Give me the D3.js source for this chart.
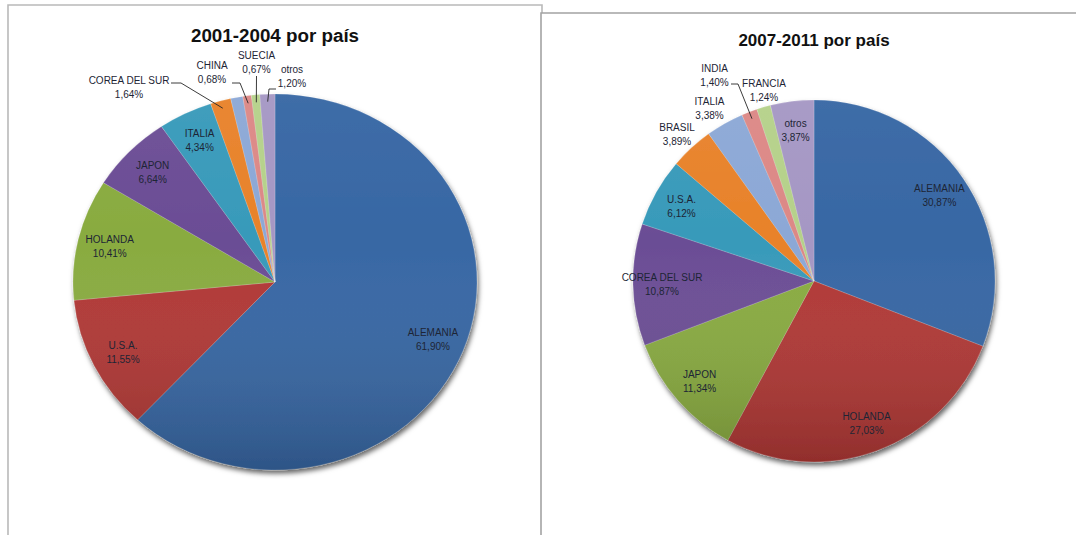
<!DOCTYPE html>
<html>
<head>
<meta charset="utf-8">
<script src="https://cdn.jsdelivr.net/npm/d3@7"></script>
<style>
  body { margin: 0; background: #fff; }
  svg { display: block; }
</style>
</head>
<body>
<script>
// Importaciones por país, periodo 2001-2004 (porcentaje del total)
const paises2001 = ["ALEMANIA", "U.S.A.", "HOLANDA", "JAPON", "ITALIA", "COREA DEL SUR", "", "CHINA", "SUECIA", "otros"];
const valores2001 = [61.90, 11.55, 10.41, 6.64, 4.34, 1.64, 0.97, 0.68, 0.67, 1.20];

// Importaciones por país, periodo 2007-2011 (porcentaje del total)
const paises2011 = ["ALEMANIA", "HOLANDA", "JAPON", "COREA DEL SUR", "U.S.A.", "BRASIL", "ITALIA", "INDIA", "FRANCIA", "otros"];
const valores2011 = [30.87, 27.03, 11.34, 10.87, 6.12, 3.89, 3.38, 1.40, 1.24, 3.87];

const titulos = ["2001-2004 por país", "2007-2011 por país"];

// Paleta de las porciones, en orden
const paleta = ["#3767a4", "#b13835", "#89ab40", "#6b4d95", "#389aba",
                "#e8822a", "#8ca8d6", "#dc8886", "#b5d18a", "#a597c4"];

const W = 1076, H = 535;
const svg = d3.select("body").append("svg").attr("width", W).attr("height", H);

const defs = svg.append("defs");
const sombra = defs.append("filter").attr("id", "sombra")
  .attr("x", "-10%").attr("y", "-10%").attr("width", "125%").attr("height", "125%");
sombra.append("feDropShadow").attr("dx", 1.5).attr("dy", 3.5)
  .attr("stdDeviation", 2.5).attr("flood-color", "#000").attr("flood-opacity", 0.6);

const brillo = defs.append("linearGradient").attr("id", "brillo")
  .attr("x1", 0).attr("y1", 0).attr("x2", 0).attr("y2", 1);
brillo.append("stop").attr("offset", "0%").attr("stop-color", "#fff").attr("stop-opacity", 0.04);
brillo.append("stop").attr("offset", "40%").attr("stop-color", "#fff").attr("stop-opacity", 0);
brillo.append("stop").attr("offset", "100%").attr("stop-color", "#000").attr("stop-opacity", 0.18);

// Marcos de los dos gráficos
const marco = svg.append("g").attr("fill", "none");
marco.append("path").attr("d", d3.line()([[8, H], [8, 5], [542, 5], [542, 13]]))
  .attr("stroke", "#b9b9b9").attr("stroke-width", 1.6);
marco.append("path").attr("d", d3.line()([[541, H], [541, 13], [W, 13]]))
  .attr("stroke", "#a3a3a3").attr("stroke-width", 1.6);

const fmt = v => d3.format(".2f")(v).replace(".", ",") + "%";

function dibujarTorta(cfg) {
  const datos = cfg.paises.map((p, i) => ({ pais: p, valor: cfg.valores[i], color: paleta[i] }));
  const R = 100;
  const sx = cfg.rx / R, sy = cfg.ry / R;
  const porciones = d3.pie().value(d => d.valor).sort(null)(datos);
  const arco = d3.arc().innerRadius(0).outerRadius(R);

  const g = svg.append("g").attr("transform", `translate(${cfg.cx},${cfg.cy})`);
  const cuerpo = g.append("g").attr("filter", "url(#sombra)")
    .append("g").attr("transform", `scale(${sx},${sy})`);

  cuerpo.selectAll("path.porcion").data(porciones).join("path")
    .attr("class", "porcion")
    .attr("d", arco)
    .attr("fill", d => d.data.color)
    .attr("stroke", "#ffffff").attr("stroke-opacity", 0.3)
    .attr("stroke-width", 0.6).attr("vector-effect", "non-scaling-stroke");

  cuerpo.append("circle").attr("r", R).attr("fill", "url(#brillo)");

  // punto sobre el borde en el ángulo medio de una porción
  const punto = (d, k) => {
    const a = (d.startAngle + d.endAngle) / 2;
    return [Math.sin(a) * cfg.rx * k, -Math.cos(a) * cfg.ry * k];
  };

  const rotulos = g.append("g")
    .attr("font-family", "'Liberation Sans', Arial, sans-serif")
    .attr("font-size", 10).attr("fill", "#1d2535").attr("text-anchor", "middle");

  porciones.forEach(d => {
    if (!d.data.pais) return;
    const ext = cfg.externos[d.data.pais];
    let x, y;
    if (ext) {
      [x, y] = ext.texto;
      if (ext.guia) {
        const tramo = [...ext.guia, punto(d, 0.96)];
        g.append("path").attr("d", d3.line()(tramo))
          .attr("fill", "none").attr("stroke", "#262626").attr("stroke-width", 0.9);
      }
    } else {
      [x, y] = punto(d, 0.84);
      y -= 7;
    }
    rotulos.append("text").attr("x", x).attr("y", y + 3.6).text(d.data.pais);
    rotulos.append("text").attr("x", x).attr("y", y + 17.6).text(fmt(d.data.valor));
  });

  svg.append("text")
    .attr("x", cfg.cx).attr("y", cfg.tituloY)
    .attr("text-anchor", "middle")
    .attr("font-family", "'Liberation Sans', Arial, sans-serif")
    .attr("font-weight", "bold").attr("font-size", cfg.tituloTam)
    .attr("fill", "#111")
    .text(cfg.titulo);
}

dibujarTorta({
  paises: paises2001, valores: valores2001, titulo: titulos[0],
  cx: 275, cy: 282, rx: 202, ry: 188, tituloY: 42, tituloTam: 18.8,
  externos: {
    "COREA DEL SUR": { texto: [-146, -202], guia: [[-104, -199], [-94, -199]] },
    "CHINA":         { texto: [-63, -217],  guia: [[-43, -199], [-35, -199]] },
    "SUECIA":        { texto: [-18.5, -227], guia: [[-18.5, -206]] },
    "otros":         { texto: [17, -213],   guia: [[1, -193], [-6, -193]] }
  }
});

dibujarTorta({
  paises: paises2011, valores: valores2011, titulo: titulos[1],
  cx: 814, cy: 281, rx: 181, ry: 181, tituloY: 46, tituloTam: 17,
  externos: {
    "INDIA":   { texto: [-99.5, -213], guia: [[-83, -197], [-76, -197]] },
    "FRANCIA": { texto: [-50, -198],   guia: null },
    "ITALIA":  { texto: [-104.5, -179.5], guia: null },
    "BRASIL":  { texto: [-137, -153.5],  guia: null }
  }
});
</script>
</body>
</html>
